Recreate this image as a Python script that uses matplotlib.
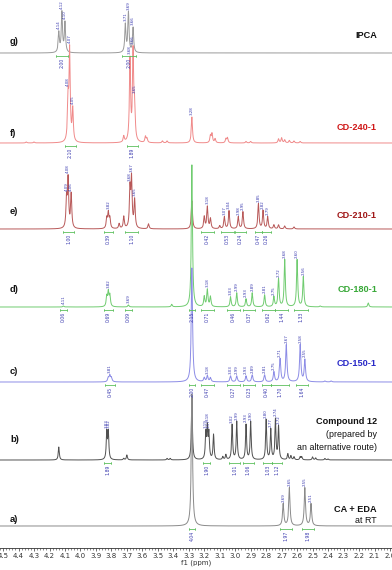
import numpy as np
import matplotlib
matplotlib.use("Agg")
import matplotlib.pyplot as plt
from matplotlib.ticker import MultipleLocator, FormatStrFormatter

# ---------------- data (ppm, intensity in px above baseline) ----------------
g_ppm = [4.14, 4.12, 4.10, 3.71, 3.69, 3.66]
g_h = [20, 40, 30, 28, 40, 25]
g_labels = [4.14, 4.12, 4.10, 3.71, 3.69, 3.66]
g_int_lo = [4.08, 3.64]
g_int_hi = [4.16, 3.73]
g_int_val = ["2.00", "2.00"]

f_ppm = [4.35, 4.30, 4.08, 4.07, 4.05, 3.72, 3.68, 3.66, 3.65, 3.58, 3.57, 3.47, 3.44,
         3.28, 3.16, 3.15, 3.13, 3.06, 3.05, 2.93, 2.90, 2.72, 2.70, 2.68, 2.65, 2.62, 2.58]
f_h = [1, 1, 40, 90, 32, 6, 82, 88, 32, 6, 4, 2, 2,
       26, 7, 9, 4, 4, 5, 1.5, 1.5, 4, 5, 3, 2.5, 2, 1.5]
f_labels = [4.08, 4.07, 4.05, 3.68, 3.66, 3.65, 3.28]
f_int_lo = [4.03, 3.63]
f_int_hi = [4.10, 3.70]
f_int_val = ["2.10", "1.89"]

e_ppm = [4.09, 4.08, 4.06, 3.83, 3.82, 3.81, 3.75, 3.72, 3.68, 3.67, 3.65, 3.56, 3.28,
         3.20, 3.18, 3.16, 3.10, 3.07, 3.04, 2.98, 2.95, 2.85, 2.82, 2.79, 2.75, 2.72,
         2.68, 2.62]
e_h = [28, 48, 34, 10, 15, 10, 5, 12, 38, 48, 28, 5, 28,
       12, 22, 10, 3, 12, 18, 12, 17, 25, 18, 12, 4, 4,
       3, 2]
e_labels = [4.09, 4.08, 4.06, 3.82, 3.68, 3.67, 3.65, 3.18, 3.07, 3.04, 2.98, 2.95,
            2.85, 2.82, 2.79]
e_int_lo = [4.04, 3.79, 3.63, 3.14, 3.01, 2.93, 2.83, 2.77]
e_int_hi = [4.11, 3.85, 3.71, 3.22, 3.09, 3.00, 2.87, 2.83]
e_int_val = ["1.00", "0.39", "1.10", "0.42", "0.53", "0.24", "0.47", "0.26"]

d_ppm = [4.11, 3.83, 3.82, 3.81, 3.69, 3.41, 3.28, 3.20, 3.18, 3.16, 3.03, 2.99, 2.93,
         2.89, 2.81, 2.75, 2.72, 2.68, 2.60, 2.56, 2.45, 2.14]
d_h = [1, 10, 14, 11, 2, 2.5, 142, 10, 17, 10, 10, 14, 8,
       14, 12, 10, 28, 47, 47, 30, 1, 4]
d_labels = [4.11, 3.82, 3.69, 3.18, 3.03, 2.99, 2.93, 2.89, 2.81, 2.75, 2.72, 2.68,
            2.60, 2.56]
d_int_lo = [4.09, 3.79, 3.67, 3.26, 3.14, 2.97, 2.87, 2.74, 2.66, 2.53]
d_int_hi = [4.13, 3.85, 3.71, 3.30, 3.22, 3.05, 2.95, 2.83, 2.74, 2.62]
d_int_val = ["0.06", "0.69", "0.09", "2.15", "0.71", "0.46", "0.37", "0.62", "1.44", "1.33"]

c_ppm = [3.82, 3.81, 3.80, 3.28, 3.20, 3.18, 3.16, 3.03, 2.99, 2.93, 2.89, 2.81, 2.75,
         2.71, 2.67, 2.58, 2.55, 2.42, 2.38]
c_h = [4, 6, 4, 114, 4, 6, 4, 6, 6, 6, 7, 7, 10,
       23, 37, 37, 22, 1, 1]
c_labels = [3.81, 3.18, 3.03, 2.99, 2.93, 2.89, 2.81, 2.75, 2.71, 2.67, 2.58, 2.55]
c_int_lo = [3.78, 3.26, 3.14, 2.97, 2.87, 2.77, 2.65, 2.53]
c_int_hi = [3.84, 3.30, 3.22, 3.05, 2.95, 2.83, 2.77, 2.61]
c_int_val = ["0.45", "2.00", "0.47", "0.27", "0.23", "0.40", "1.70", "1.64"]

b_ppm = [4.14, 3.83, 3.82, 3.72, 3.70, 3.44, 3.42, 3.28, 3.19, 3.18, 3.17, 3.14, 3.08,
         3.06, 3.02, 2.99, 2.93, 2.90, 2.80, 2.77, 2.74, 2.72, 2.66, 2.64, 2.62, 2.58,
         2.57, 2.50, 2.48, 2.42, 2.40]
b_h = [13, 27, 27, 1.5, 5, 1.5, 1.5, 62, 25, 30, 25, 25, 3,
       5, 35, 38, 35, 38, 40, 30, 40, 33, 6, 4, 3, 3,
       3, 3, 2, 1.5, 1]
b_labels = [3.83, 3.82, 3.19, 3.18, 3.17, 3.02, 2.99, 2.93, 2.90, 2.80, 2.77, 2.74, 2.72]
b_int_lo = [3.80, 3.16, 2.97, 2.88, 2.76, 2.70]
b_int_hi = [3.85, 3.21, 3.04, 2.95, 2.82, 2.76]
b_int_val = ["1.89", "1.90", "1.01", "1.06", "1.03", "1.12"]

a_ppm = [3.28, 2.69, 2.65, 2.55, 2.51]
a_h = [132, 22, 38, 38, 22]
a_labels = [2.69, 2.65, 2.55, 2.51]
a_int_lo = [3.26, 2.63, 2.49]
a_int_hi = [3.30, 2.71, 2.57]
a_int_val = ["4.04", "1.97", "1.98"]

letters = ["g)", "f)", "e)", "d)", "c)", "b)", "a)"]
names = ["IPCA", "CD-240-1", "CD-210-1", "CD-180-1", "CD-150-1", "Compound 12", "CA + EDA"]
sub_names = [[], [], [], [], [], ["(prepared by", "an alternative route)"], ["at RT"]]
tick_values = np.round(np.arange(2.0, 4.51, 0.1), 1)

# ---------------- layout ----------------
W, H = 392, 570
AXIS_Y = 548  # pixel row of x axis
fig = plt.figure(figsize=(W / 100, H / 100), dpi=100)
ax = fig.add_axes([0, (H - AXIS_Y) / H, 1, AXIS_Y / H])
ax.set_xlim(4.52, 1.987)
ax.set_ylim(0, AXIS_Y)


def py(p):
    return AXIS_Y - p


spectra = [
    dict(ppm=g_ppm, h=g_h, lab=g_labels, lo=g_int_lo, hi=g_int_hi, iv=g_int_val,
         base=53, color="#9a9a9a", w=0.0045, ncol="#111111", ly=41, ny=36),
    dict(ppm=f_ppm, h=f_h, lab=f_labels, lo=f_int_lo, hi=f_int_hi, iv=f_int_val,
         base=143, color="#f08a8a", w=0.0045, ncol="#d01818", ly=133, ny=127),
    dict(ppm=e_ppm, h=e_h, lab=e_labels, lo=e_int_lo, hi=e_int_hi, iv=e_int_val,
         base=229, color="#b85858", w=0.0045, ncol="#a01818", ly=212, ny=216),
    dict(ppm=d_ppm, h=d_h, lab=d_labels, lo=d_int_lo, hi=d_int_hi, iv=d_int_val,
         base=307, color="#70cc70", w=0.0045, ncol="#38a838", ly=290, ny=290),
    dict(ppm=c_ppm, h=c_h, lab=c_labels, lo=c_int_lo, hi=c_int_hi, iv=c_int_val,
         base=382, color="#8c8ce6", w=0.005, ncol="#2a2ac8", ly=372, ny=363),
    dict(ppm=b_ppm, h=b_h, lab=b_labels, lo=b_int_lo, hi=b_int_hi, iv=b_int_val,
         base=460, color="#505050", w=0.004, ncol="#111111", ly=439, ny=422),
    dict(ppm=a_ppm, h=a_h, lab=a_labels, lo=a_int_lo, hi=a_int_hi, iv=a_int_val,
         base=526, color="#8a8a8a", w=0.005, ncol="#111111", ly=519, ny=509),
]

x = np.linspace(1.98, 4.53, 8000)
LAB_COL = "#3c3cb0"
INT_COL = "#5cbf5c"
yt = ax.get_yaxis_transform()

for i, s in enumerate(spectra):
    pk = np.array(s["ppm"])
    hh = np.array(s["h"], dtype=float)
    y = (hh[:, None] / (1 + ((x[None, :] - pk[:, None]) / s["w"]) ** 2)).sum(axis=0)
    b0 = py(s["base"])
    ax.plot(x, b0 + y, color=s["color"], lw=0.7, zorder=2 + i, clip_on=False)

    # peak labels
    for v in s["lab"]:
        yy = (hh / (1 + ((v - pk) / s["w"]) ** 2)).sum()
        ax.text(v, b0 + yy + 1.5, f"{v:.2f}", rotation=90, ha="center", va="bottom",
                fontsize=2.9, color=LAB_COL, zorder=20)

    # integrals
    for lo, hi, val in zip(s["lo"], s["hi"], s["iv"]):
        yb = b0 - 3
        ax.plot([lo, hi], [yb, yb], color=INT_COL, lw=0.6, zorder=20)
        ax.plot([lo, lo], [yb - 1, yb + 1], color=INT_COL, lw=0.5, zorder=20)
        ax.plot([hi, hi], [yb - 1, yb + 1], color=INT_COL, lw=0.5, zorder=20)
        ax.text((lo + hi) / 2, yb - 1.5, val, rotation=90, ha="center", va="top",
                fontsize=3.3, color=LAB_COL, zorder=20)

    # letter on the left
    ax.text(10 / W, py(s["ly"]), letters[i], transform=yt, ha="left", va="center",
            fontsize=6.8, fontweight="bold", family="Liberation Sans", color="#111111")
    # name on the right
    ax.text(377 / W, py(s["ny"]), names[i], transform=yt, ha="right", va="center",
            fontsize=6.6, fontweight="bold", family="Liberation Sans", color=s["ncol"])
    for k, sub in enumerate(sub_names[i]):
        ax.text(377 / W, py(s["ny"] + 12.5 * (k + 1) - (1 if i == 6 else 0)), sub,
                transform=yt, ha="right", va="center", fontsize=6.4,
                family="Liberation Sans", color="#111111")

# axis styling
for sp in ["top", "left", "right"]:
    ax.spines[sp].set_visible(False)
ax.spines["bottom"].set_color("#333333")
ax.spines["bottom"].set_linewidth(0.6)
ax.set_yticks([])
ax.set_xticks(tick_values)
ax.xaxis.set_major_formatter(FormatStrFormatter("%.1f"))
ax.xaxis.set_minor_locator(MultipleLocator(0.02))
ax.tick_params(axis="x", which="major", direction="out", length=2.5, width=0.5,
               labelsize=5, pad=1.2, colors="#333333")
ax.tick_params(axis="x", which="minor", direction="out", length=1.3, width=0.4,
               colors="#333333")
ax.set_xlabel("f1 (ppm)", fontsize=5, labelpad=0.5, color="#333333")
ax.patch.set_alpha(0)

fig.savefig("out.png", dpi=100)
